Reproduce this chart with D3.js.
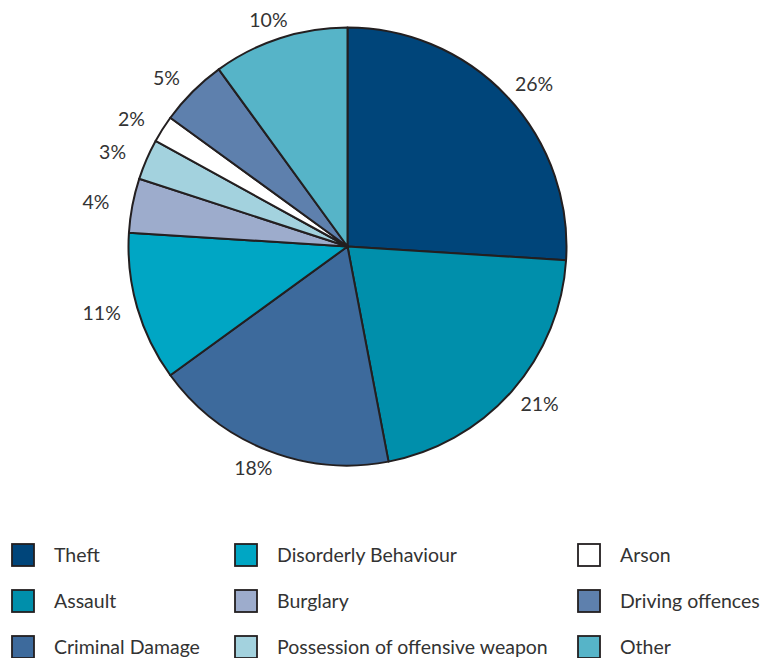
<!DOCTYPE html>
<html><head><meta charset="utf-8">
<script src="https://cdn.jsdelivr.net/npm/d3@7"></script>
<style>body{margin:0;background:#fff;}svg{display:block;}</style>
</head><body>
<svg id="c" width="764" height="658"></svg>
<script>
const categories = ["Theft","Assault","Criminal Damage","Disorderly Behaviour","Burglary","Possession of offensive weapon","Arson","Driving offences","Other"];
const values = [26,21,18,11,4,3,2,5,10];
const colors = ["#00457a","#008fab","#3d6a9c","#00a6c4","#9daccc","#a3d2de","#ffffff","#5e80ad","#56b4c8"];
const legendOrder = ["Theft","Assault","Criminal Damage","Disorderly Behaviour","Burglary","Possession of offensive weapon","Arson","Driving offences","Other"];

const FONT = "Lato, 'Open Sans', sans-serif";
const svg = d3.select("#c");
const cx = 347.5, cy = 246.5, r = 219;
const color = d3.scaleOrdinal().domain(categories).range(colors);
const pie = d3.pie().sort(null).value(d => d.v);
const data = categories.map((c,i)=>({c, v: values[i]}));
const arcs = pie(data);
const arc = d3.arc().innerRadius(0).outerRadius(r);
const g = svg.append("g").attr("transform",`translate(${cx},${cy})`);
g.selectAll("path").data(arcs).join("path")
  .attr("d",arc).attr("fill",d=>color(d.data.c))
  .attr("stroke","#231f20").attr("stroke-width",2).attr("stroke-linejoin","round");
const Rx = 256, Ry = 238;
g.selectAll("text").data(arcs).join("text")
  .attr("x",d=>{const a=(d.startAngle+d.endAngle)/2; return Math.sin(a)*Rx;})
  .attr("y",d=>{const a=(d.startAngle+d.endAngle)/2; return -Math.cos(a)*Ry;})
  .attr("text-anchor","middle").attr("dy","0.36em")
  .attr("font-family",FONT).attr("font-size",19.5)
  .attr("fill","#333").text(d=>d.data.v+"%");

const colX = [12, 235, 578];
const rowY = [555, 601, 647];
const lg = svg.append("g");
legendOrder.forEach((c,i)=>{
  const col = Math.floor(i/3), row = i%3;
  const x = colX[col], y = rowY[row];
  lg.append("rect").attr("x",x).attr("y",y-11).attr("width",22).attr("height",22)
    .attr("fill",color(c)).attr("stroke","#231f20").attr("stroke-width",1.8);
  lg.append("text").attr("x",x+42).attr("y",y).attr("dy","0.36em")
    .attr("font-family",FONT).attr("font-size",19.5)
    .attr("fill","#333").text(c);
});
</script>
</body></html>
